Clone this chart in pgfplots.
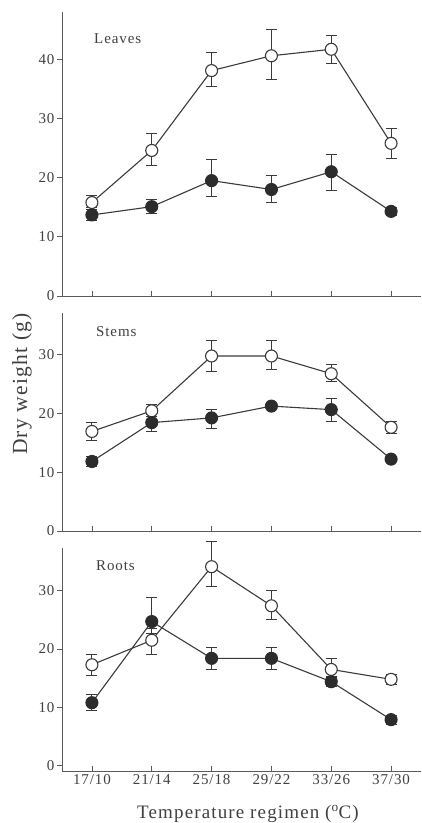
\documentclass[border=0pt]{standalone}
\usepackage{fontspec}
\setmainfont{Liberation Serif}[LetterSpace=6]
\usepackage{pgfplots}
\pgfplotsset{compat=1.18}
\usepackage{pgfplotstable}

\definecolor{ink}{HTML}{3A3A3A}
\definecolor{dot}{HTML}{2C2C2C}
\definecolor{axisc}{HTML}{5A5A5A}
\definecolor{txt}{HTML}{404040}

\pgfplotstableread{
x y ep em
0 15.8 1.2 1.2
1 24.6 2.8 2.6
2 38.1 3.0 2.7
3 40.6 4.5 4.0
4 41.7 2.4 2.4
5 25.8 2.6 2.5
}\leavesopen
\pgfplotstableread{
x y ep em
0 13.7 1.2 1.0
1 15.1 1.3 1.2
2 19.5 3.5 2.6
3 18.0 2.3 2.2
4 21.0 3.0 3.1
5 14.3 0.7 0.7
}\leavesfilled
\pgfplotstableread{
x y ep em
0 16.9 1.5 1.6
1 20.4 1.0 1.0
2 29.7 2.7 2.7
3 29.7 2.7 2.3
4 26.7 1.6 1.4
5 17.6 1.0 1.1
}\stemsopen
\pgfplotstableread{
x y ep em
0 11.8 0.9 0.9
1 18.4 1.3 1.5
2 19.2 1.5 1.8
3 21.2 0.3 0.3
4 20.6 1.9 2.0
5 12.2 0.3 0.3
}\stemsfilled
\pgfplotstableread{
x y ep em
0 17.3 1.7 1.9
1 21.5 2.0 2.4
2 34.1 4.3 3.4
3 27.4 2.7 2.4
4 16.5 1.8 1.2
5 14.8 0.8 0.8
}\rootsopen
\pgfplotstableread{
x y ep em
0 10.8 1.5 1.4
1 24.7 4.2 2.0
2 18.4 1.9 1.9
3 18.4 1.9 1.9
4 14.4 0.8 0.8
5 7.9 0.8 0.8
}\rootsfilled

\pgfplotsset{
  panel/.style={
    scale only axis, width=359pt, xmin=-0.5, xmax=5.5,
    axis lines=left, axis line style={-, color=axisc, line width=0.9pt},
    xtick={0,...,5}, xticklabels={}, tick align=inside, major tick length=5pt,
    tick style={color=axisc, line width=0.8pt},
    ytick style={xshift=-5pt},
    yticklabel style={xshift=-4pt},
    tick label style={font=\fontsize{15}{15}\selectfont, text=txt},
    /pgf/number format/assume math mode=true,
    clip=false, anchor=north west,
  },
  opens/.style={color=ink, line width=1.1pt, mark=*, mark size=6pt,
    mark options={fill=white, draw=ink, line width=1.1pt},
    error bars/.cd, y dir=both, y explicit,
    error bar style={line width=0.9pt, ink},
    error mark options={rotate=90, mark size=5.5pt, line width=0.9pt, ink}},
  fills/.style={color=ink, line width=1.1pt, mark=*, mark size=6pt,
    mark options={fill=dot, draw=dot, line width=1.1pt},
    error bars/.cd, y dir=both, y explicit,
    error bar style={line width=0.9pt, ink},
    error mark options={rotate=90, mark size=5.5pt, line width=0.9pt, ink}},
}

\begin{document}
\begin{tikzpicture}[x=1pt,y=1pt]
\useasboundingbox (0,0) rectangle (422,-823);

\begin{axis}[panel, at={(62pt,-12pt)}, height=284pt, ymin=0, ymax=48, ytick={0,10,20,30,40}]
\addplot[opens] table[x=x, y=y, y error plus=ep, y error minus=em] {\leavesopen};
\addplot[fills] table[x=x, y=y, y error plus=ep, y error minus=em] {\leavesfilled};
\end{axis}

\begin{axis}[panel, at={(62pt,-313pt)}, height=218pt, ymin=0, ymax=37, ytick={0,10,20,30}]
\addplot[opens] table[x=x, y=y, y error plus=ep, y error minus=em] {\stemsopen};
\addplot[fills] table[x=x, y=y, y error plus=ep, y error minus=em] {\stemsfilled};
\end{axis}

\begin{axis}[panel, at={(62pt,-548pt)}, height=223pt, ymin=-0.9, ymax=37.3, ytick={0,10,20,30},
  xticklabels={17/10,21/14,25/18,29/22,33/26,37/30}]
\addplot[opens] table[x=x, y=y, y error plus=ep, y error minus=em] {\rootsopen};
\addplot[fills] table[x=x, y=y, y error plus=ep, y error minus=em] {\rootsfilled};
\end{axis}

\node[anchor=base west, text=txt, font=\fontsize{15}{15}\selectfont, inner sep=0] at (94,-43.3) {Leaves};
\node[anchor=base west, text=txt, font=\fontsize{15}{15}\selectfont, inner sep=0] at (96,-336.7) {Stems};
\node[anchor=base west, text=txt, font=\fontsize{15}{15}\selectfont, inner sep=0] at (96,-570.7) {Roots};

\node[rotate=90, text=txt, font=\fontsize{21.5}{21.5}\selectfont, inner sep=0] at (22,-384) {Dry weight (g)};
\node[anchor=base, text=txt, font=\fontsize{19}{19}\selectfont, inner sep=0] at (248,-818) {Temperature regimen (\textsuperscript{o}C)};
\end{tikzpicture}
\end{document}
